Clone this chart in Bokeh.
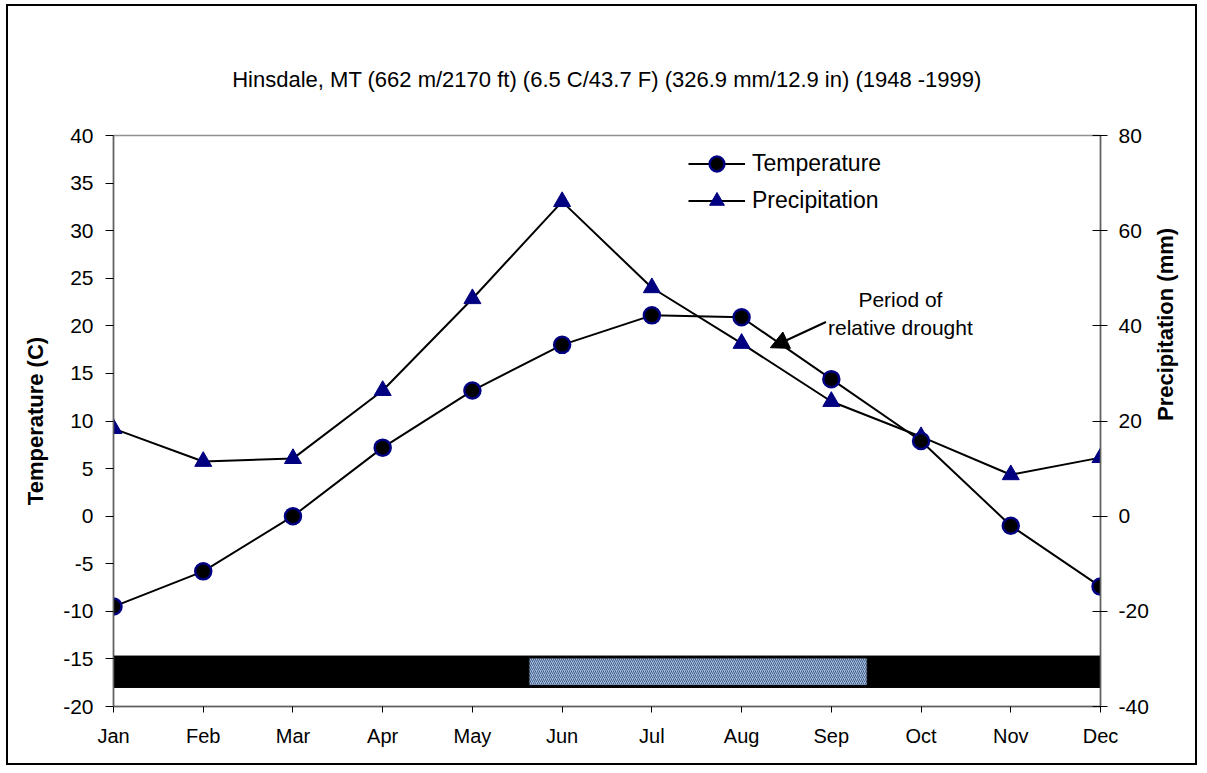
import math
from bokeh.plotting import figure
from bokeh.models import (Range1d, LinearAxis, FixedTicker, Arrow, NormalHead,
                          Label, Legend, LegendItem)
from bokeh.embed import file_html
from bokeh.resources import INLINE

# ---------------- data ----------------
months = ["Jan", "Feb", "Mar", "Apr", "May", "Jun",
          "Jul", "Aug", "Sep", "Oct", "Nov", "Dec"]
month_index = list(range(12))
temperature = [-9.5, -5.8, 0.0, 7.2, 13.2, 18.0, 21.1, 20.9, 14.4, 7.9, -1.0, -7.4]
precipitation = [18.4, 11.5, 12.1, 26.4, 45.7, 66.1, 48.0, 36.3, 24.1, 16.7, 8.7, 12.3]
temp_ticks = list(range(-20, 45, 5))
precip_ticks = list(range(-40, 100, 20))
title_text = "Hinsdale, MT (662 m/2170 ft) (6.5 C/43.7 F) (326.9 mm/12.9 in) (1948 -1999)"

# bottom bar: whole year (black) and the frost-free season (hatched), month-index units
bar_start, bar_end = 0, 11
bar_top, bar_bottom = -14.7, -18.0
season_start, season_end = 4.63, 8.4
season_top, season_bottom = -14.9, -17.8

# annotation
drought_lines = ["Period of", "relative drought"]
drought_text_x = 8.77
drought_text_y = [22.8, 19.8]
arrow_from = (7.94, 20.4)
arrow_to = (7.32, 17.7)

FONT = "Liberation Sans"

p = figure(width=1191, height=761, output_backend="svg", toolbar_location=None,
           x_range=Range1d(0, 11), y_range=Range1d(-20, 40),
           min_border_left=105, min_border_right=99,
           min_border_top=129, min_border_bottom=61,
           background_fill_color="white", border_fill_color="white")
p.styles = {"border": "2px solid black", "margin-left": "6px", "margin-top": "4px"}

p.title.text = title_text
p.title.align = "center"
p.title.text_font = FONT
p.title.text_font_size = "22px"
p.title.text_font_style = "normal"
p.title.text_color = "black"
p.title.standoff = 88

p.xgrid.visible = False
p.ygrid.visible = False
p.outline_line_color = "#909090"
p.outline_line_width = 1.5

p.extra_y_ranges = {"precip": Range1d(-40, 80)}

# bars at bottom
p.quad(left=[bar_start], right=[bar_end], top=[bar_top], bottom=[bar_bottom],
       fill_color="black", line_color="black")
p.quad(left=[season_start], right=[season_end], top=[season_top], bottom=[season_bottom],
       fill_color="#a9bcd8", hatch_pattern="/", hatch_color="#3f5f8f",
       hatch_scale=4, hatch_weight=1, line_color="black", line_width=1)

# series
pl = p.line(month_index, precipitation, y_range_name="precip", line_color="black", line_width=2)
pm = p.scatter(month_index, precipitation, y_range_name="precip", marker="triangle",
               size=17, fill_color="#000080", line_color="#000080", line_width=1)
tl = p.line(month_index, temperature, line_color="black", line_width=2)
tm = p.scatter(month_index, temperature, marker="circle", size=16,
               fill_color="black", line_color="#000080", line_width=2.5)

# axes
xa = p.xaxis[0]
xa.ticker = FixedTicker(ticks=month_index)
xa.major_label_overrides = {i: m for i, m in zip(month_index, months)}
xa.major_tick_out = 6
xa.major_tick_in = 0
xa.minor_tick_line_color = None
xa.major_label_standoff = 12
xa.major_label_text_font = FONT
xa.major_label_text_font_size = "20px"
xa.major_label_text_color = "black"
xa.axis_line_color = "#606060"
xa.axis_line_width = 1.5
xa.major_tick_line_color = "black"

ya = p.yaxis[0]
ya.ticker = FixedTicker(ticks=temp_ticks)
ya.major_label_overrides = {t: str(t) for t in temp_ticks}
ya.axis_label = "Temperature (C)"
ya.axis_label_text_font = FONT
ya.axis_label_text_font_size = "22px"
ya.axis_label_text_font_style = "bold"
ya.axis_label_text_color = "black"
ya.axis_label_standoff = 12
ya.major_tick_out = 8
ya.major_tick_in = 0
ya.minor_tick_line_color = None
ya.major_label_standoff = 12
ya.major_label_text_font = FONT
ya.major_label_text_font_size = "21px"
ya.major_label_text_color = "black"
ya.axis_line_color = "#606060"
ya.axis_line_width = 1.5
ya.major_tick_line_color = "black"

ra = LinearAxis(y_range_name="precip", ticker=FixedTicker(ticks=precip_ticks))
ra.major_label_overrides = {t: str(t) for t in precip_ticks}
ra.axis_label = "Precipitation (mm)"
ra.axis_label_text_font = FONT
ra.axis_label_text_font_size = "22px"
ra.axis_label_text_font_style = "bold"
ra.axis_label_text_color = "black"
ra.axis_label_standoff = 14
ra.axis_label_orientation = math.pi / 2
ra.major_tick_out = 7
ra.major_tick_in = 8
ra.minor_tick_line_color = None
ra.major_label_standoff = 11
ra.major_label_text_font = FONT
ra.major_label_text_font_size = "21px"
ra.major_label_text_color = "black"
ra.axis_line_color = "#606060"
ra.axis_line_width = 1.5
ra.major_tick_line_color = "black"
p.add_layout(ra, "right")

# legend
legend = Legend(items=[LegendItem(label="Temperature", renderers=[tl, tm]),
                       LegendItem(label="Precipitation", renderers=[pl, pm])],
                location=(575, 487), border_line_color=None, background_fill_alpha=0,
                padding=0, margin=0, spacing=0, glyph_width=57, glyph_height=37,
                label_height=37, label_standoff=7, label_text_color="black",
                label_text_font=FONT, label_text_font_size="23px")
p.add_layout(legend)

# annotation
p.add_layout(Arrow(end=NormalHead(size=18, fill_color="black", line_color="black"),
                   x_start=arrow_from[0], y_start=arrow_from[1],
                   x_end=arrow_to[0], y_end=arrow_to[1],
                   line_color="black", line_width=2))
for txt, ty in zip(drought_lines, drought_text_y):
    p.add_layout(Label(x=drought_text_x, y=ty, text=txt, text_align="center",
                       text_baseline="middle", text_font=FONT,
                       text_font_size="21px", text_color="black"))

open("out.html", "w").write(file_html(p, INLINE))
